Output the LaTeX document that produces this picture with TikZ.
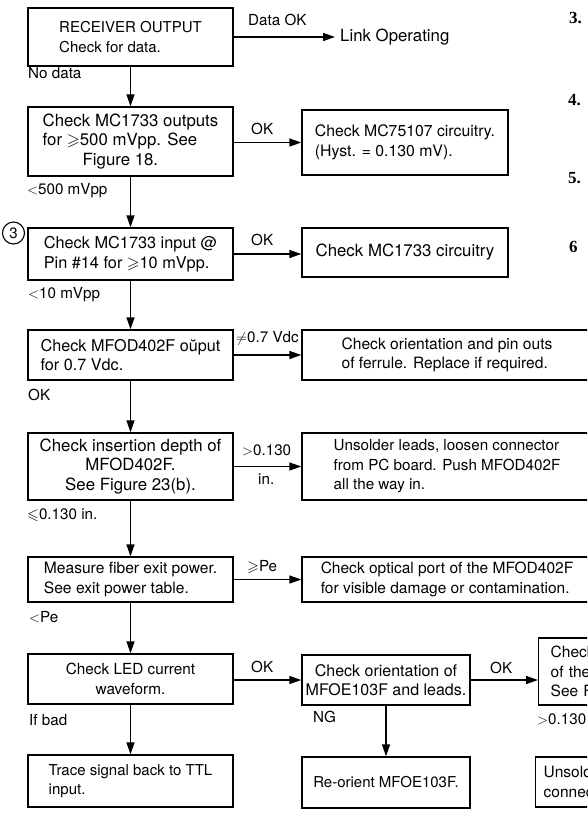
\documentclass[tikz,border=0pt]{standalone}
\usepackage{amssymb}
\usepackage{fontspec}
\setmainfont{TeX Gyre Heros}
\newfontfamily\numfont{Liberation Serif}
\usetikzlibrary{arrows.meta}
\newcommand\fsz[1]{\fontsize{#1}{19.5}\selectfont}
\newcommand\numsz{\numfont\bfseries\fontsize{17}{19}\selectfont}
\begin{document}
\begin{tikzpicture}[x=1pt,y=-1pt,
  box/.style={draw, line width=1.4pt, inner sep=0pt},
  lbl/.style={anchor=west, inner sep=0pt, font=\fsz{15.2}},
  arr/.style={line width=1.4pt, -{Triangle[length=12pt,width=8pt]}},
  num/.style={anchor=west, inner sep=0pt, font=\numsz}]
\useasboundingbox (0,0) rectangle (587,820);
\fill[white] (0,0) rectangle (587,820);
\clip (0,0) rectangle (587,820);

% left column
\node[box, minimum width=205pt, minimum height=58pt, align=left, font=\fsz{15}] (b1) at (130.5,37) {RECEIVER OUTPUT\\Check for data.};
\node[box, minimum width=205pt, minimum height=69pt, align=left, font=\fsz{16.8}] (b2) at (130.5,141.5) {Check MC1733 outputs\\for $\geqslant$500 mVpp. See\\\hspace*{40pt}Figure 18.};
\node[box, minimum width=205pt, minimum height=52pt, align=left, font=\fsz{16.3}] (b3) at (130.5,254) {Check MC1733 input @\\Pin \#14 for $\geqslant$10 mVpp.};
\node[box, minimum width=205pt, minimum height=50pt, align=left, font=\fsz{16.2}] (b4) at (130.5,355) {Check MFOD402F oŭput\\for 0.7 Vdc.};
\node[box, minimum width=205pt, minimum height=67pt, align=center, font=\fsz{16.8}] (b5) at (130.5,466.5) {Check insertion depth of\\MFOD402F.\\See Figure 23(b).};
\node[box, minimum width=205pt, minimum height=45pt, align=left, font=\fsz{15.6}] (b6) at (130.5,579.5) {Measure fiber exit power.\\See exit power table.};
\node[box, minimum width=205pt, minimum height=50pt, align=center, font=\fsz{15.3}] (b7) at (130.5,679) {Check LED current\\waveform.};
\node[box, minimum width=205pt, minimum height=52pt, align=left, font=\fsz{15}] (b8) at (130.5,781) {Trace signal back to TTL\\input.};

% right column
\node[box, minimum width=206pt, minimum height=65pt, align=left, font=\fsz{15.8}] (b2r) at (405,142.5) {Check MC75107 circuitry.\\(Hyst. = 0.130 mV).};
\node[box, minimum width=206pt, minimum height=49pt, align=left, font=\fsz{16.8}] (b3r) at (405,252.5) {Check MC1733 circuitry};
\node[box, minimum width=290pt, minimum height=50pt, align=left, font=\fsz{15.6}] (b4r) at (447,355) {Check orientation and pin outs\\of ferrule. Replace if required.};
\node[box, minimum width=290pt, minimum height=67pt, align=left, font=\fsz{15.2}] (b5r) at (447,466.5) {Unsolder leads, loosen connector\\from PC board. Push MFOD402F\\all the way in.};
\node[box, minimum width=290pt, minimum height=45pt, align=left, font=\fsz{15.5}] (b6r) at (447,579.5) {Check optical port of the MFOD402F\\for visible damage or contamination.};
\node[box, minimum width=168pt, minimum height=50pt, align=center, font=\fsz{16}] (b7m) at (386,680) {Check orientation of\\MFOE103F and leads.};
\node[box, minimum width=168pt, minimum height=51pt, align=center, font=\fsz{15}] (b8m) at (386,782.5) {Re-orient MFOE103F.};
\node[box, anchor=west, inner xsep=12pt, text width=110pt, minimum height=67pt, align=left, font=\fsz{15.5}] (b7r) at (538,671.5) {Check\\of the\\See F};
\node[box, anchor=west, inner xsep=8pt, text width=110pt, minimum height=50pt, align=left, font=\fsz{15.5}] (b8r) at (535,782) {Unsolder\\connector};

% circle marker
\node[draw, circle, line width=1.1pt, minimum size=22pt, inner sep=0pt, font=\fsz{15}] (c3) at (13.5,233) {3};

% labels
\node[lbl] (l1) at (248,20) {Data OK};
\node[lbl, font=\fsz{16.8}] (link) at (340,37) {Link Operating};
\node[lbl] (l2) at (28,73) {No data};
\node[lbl] (l3) at (251,129) {OK};
\node[lbl] (l4) at (27,191) {$<$500 mVpp};
\node[lbl] (l5) at (251,240) {OK};
\node[lbl] (l6) at (28,295) {$<$10 mVpp};
\node[lbl] (l7) at (236,338) {$\neq$0.7 Vdc};
\node[lbl] (l8) at (28,395) {OK};
\node[lbl] (l9) at (242,450) {$>$0.130};
\node[lbl] (l10) at (258,479) {in.};
\node[lbl] (l11) at (27,515) {$\leqslant$0.130 in.};
\node[lbl] (l12) at (247,567) {$\geqslant$Pe};
\node[lbl] (l13) at (29,617) {$<$Pe};
\node[lbl] (l14) at (251,667) {OK};
\node[lbl] (l15) at (29,720) {If bad};
\node[lbl] (l16) at (313,717) {NG};
\node[lbl] (l17) at (490,668) {OK};
\node[lbl] (l18) at (537,719) {$>$0.130};

% margin numbers
\node[num] (n3) at (569,18) {3.};
\node[num] (n4) at (568,100) {4.};
\node[num] (n5) at (568,178) {5.};
\node[num] (n6) at (569,247) {6};

% connectors
\draw[arr] (b1.east) -- ([xshift=-5pt]link.west);
\draw[arr] (b1.south) -- (b2.north);
\draw[arr] (b2.south) -- (b3.north);
\draw[arr] (b3.south) -- (b4.north);
\draw[arr] (b4.south) -- (b5.north);
\draw[arr] (b5.south) -- (b6.north);
\draw[arr] (b6.south) -- (b7.north);
\draw[arr] (b7.south) -- (b8.north);
\draw[arr] (b7m.south) -- (b8m.north);
\draw[arr] (b2.east |- b2r.west) -- (b2r.west);
\draw[arr] (b3.east) -- (b3.east -| b3r.west);
\draw[arr] (b4.east) -- (b4r.west);
\draw[arr] (b5.east) -- (b5r.west);
\draw[arr] (b6.east) -- (b6r.west);
\draw[arr] (b7.east |- b7m.west) -- (b7m.west);
\draw[arr] (b7m.east) -- (b7m.east -| b7r.west);
\end{tikzpicture}
\end{document}
